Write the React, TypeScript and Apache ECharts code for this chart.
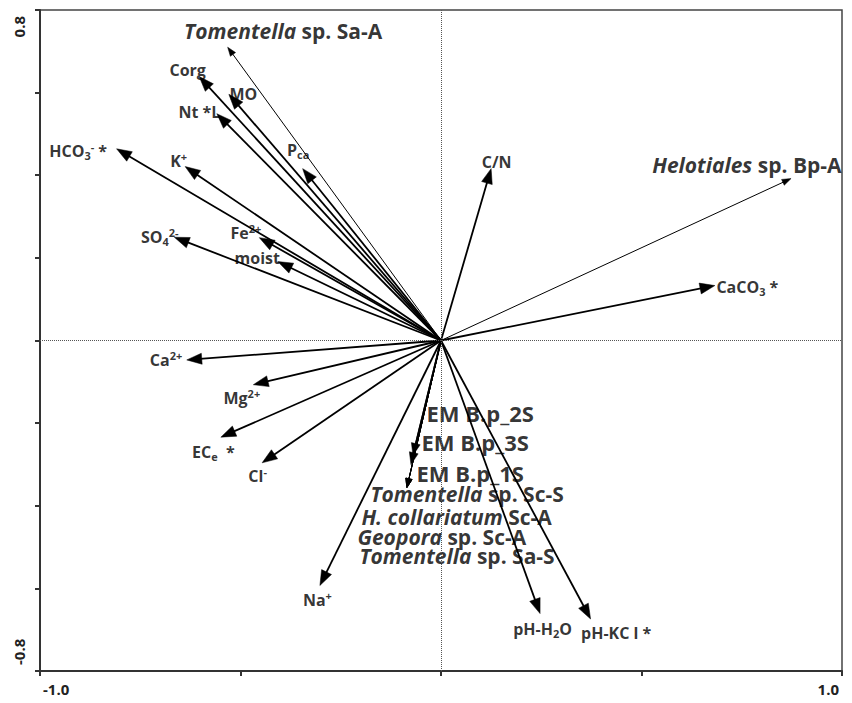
import React, { useEffect, useRef } from 'react';
import * as echarts from 'echarts';

// ---- Environmental variables (arrow tips, biplot scores) ----
const envLabels = [
  '{v|Corg}', '{v|MO}', '{v|Nt *L}', '{v|P}{sub|ca}', '{v|HCO}{sub|3}{sup|-}{v| *}',
  '{v|K}{sup|+}', '{v|SO}{sub|4}{sup|2-}', '{v|Fe}{sup|2+}', '{v|moist}', '{v|C/N}',
  '{v|CaCO}{sub|3}{v| *}', '{v|Ca}{sup|2+}', '{v|Mg}{sup|2+}', '{v|EC}{sub|e}{v|  *}',
  '{v|Cl}{sup|-}', '{v|Na}{sup|+}', '{v|pH-H}{sub|2}{v|O}', '{v|pH-KC l *}',
];
const envX = [-0.603, -0.529, -0.559, -0.345, -0.809, -0.638, -0.665, -0.453, -0.407, 0.125,
  0.683, -0.634, -0.468, -0.549, -0.446, -0.302, 0.247, 0.373];
const envY = [0.639, 0.596, 0.549, 0.416, 0.464, 0.421, 0.250, 0.249, 0.191, 0.416,
  0.133, -0.047, -0.107, -0.234, -0.296, -0.593, -0.661, -0.674];

// ---- Fungal taxa ----
const spLabels = [
  '{si|Tomentella}{sn| sp. Sa-A}', '{si|Helotiales}{sn| sp. Bp-A}',
  '{em|EM B.p_2S}', '{em|EM B.p_3S}', '{em|EM B.p_1S}',
  '{si|Tomentella}{sn| sp. Sc-S}', '{si|H. collariatum}{sn| Sc-A}',
  '{si|Geopora}{sn| sp. Sc-A}', '{si|Tomentella}{sn| sp. Sa-S}',
];
const spX = [-0.532, 0.873, -0.070, -0.075, -0.085, -0.085, -0.085, -0.085, -0.085];
const spY = [0.710, 0.392, -0.278, -0.300, -0.356, -0.356, -0.356, -0.356, -0.356];

// ---- Axis tick labels ----
const xTickLabels: Record<string, string> = { '-1': '-1.0', '1': '1.0' };
const yTickLabels: Record<string, string> = { '-0.8': '-0.8', '0.8': '0.8' };

// ---- styling (label placement relative to arrow tip, px) ----
const envLabelPos: [number, number, string][] = [
  [-11, -6, 'center'], [15, 0, 'center'], [-17, -1, 'center'], [-4, -18, 'center'], [-9, 3, 'right'],
  [-6, -5, 'center'], [-14, 0, 'center'], [-13, -4, 'center'], [-20, -3, 'center'], [6, -6, 'center'],
  [2, 2, 'left'], [-4, 1, 'right'], [-11, 14, 'center'], [-7, 15, 'center'],
  [-4, 14, 'center'], [-2, 15, 'center'], [3, 16, 'center'], [-9, 15, 'left'],
];
const spLabelPos: [number, number, string][] = [
  [56, -16, 'center'], [51, -13, 'right'],
  [14, -42, 'left'], [11, -22, 'left'], [10, -14, 'left'],
  [-36, 7, 'left'], [-45, 30, 'left'], [-49, 50, 'left'], [-47, 69, 'left'],
];
// 2 = heavy (env), 1 = medium, 0 = light
const spWeight = [0, 0, 1, 1, 0, 0, 0, 0, 0];

const FONT = '"Open Sans", Lato, sans-serif';
const INK = '#000';

export default function App() {
  const ref = useRef<HTMLDivElement>(null);

  useEffect(() => {
    if (!ref.current) return;
    const chart = echarts.init(ref.current, undefined, { renderer: 'svg' });

    const arrowData: number[][] = [];
    envX.forEach((x, i) => arrowData.push([x, envY[i], 2]));
    spX.forEach((x, i) => arrowData.push([x, spY[i], spWeight[i]]));

    const allLabels = [...envLabels, ...spLabels];
    const allPos = [...envLabelPos, ...spLabelPos];
    const labelData = arrowData.map((d, i) => ({
      value: [d[0], d[1]],
      label: {
        position: [allPos[i][0], allPos[i][1]],
        align: allPos[i][2],
      },
    }));

    const rich = {
      v: { fontSize: 16, fontWeight: 'bold', fontFamily: FONT, color: INK, lineHeight: 20 },
      sup: { fontSize: 11, fontWeight: 'bold', fontFamily: FONT, color: INK, lineHeight: 9, verticalAlign: 'top' },
      sub: { fontSize: 11, fontWeight: 'bold', fontFamily: FONT, color: INK, lineHeight: 11, verticalAlign: 'bottom' },
      si: { fontSize: 21, fontWeight: 'bold', fontStyle: 'italic', fontFamily: FONT, color: INK, lineHeight: 18 },
      sn: { fontSize: 21, fontWeight: 'bold', fontFamily: FONT, color: INK, lineHeight: 18 },
      em: { fontSize: 22, fontWeight: 'bold', fontFamily: FONT, color: INK, lineHeight: 20 },
    };

    const option: any = {
      animation: false,
      grid: { left: 40, right: 10, top: 10, bottom: 32, show: true, borderColor: '#444', borderWidth: 1.5, backgroundColor: 'transparent' },
      xAxis: {
        type: 'value', min: -1, max: 1, interval: 0.5,
        splitLine: { show: false },
        axisLine: { show: true, onZero: false, lineStyle: { color: '#333', width: 2 } },
        axisTick: { show: true, inside: false, length: 5, lineStyle: { color: '#333', width: 2 } },
        axisLabel: {
          margin: 10, fontSize: 15, fontWeight: 'bold', fontFamily: FONT, color: '#222',
          alignMinLabel: 'left', alignMaxLabel: 'right', padding: [0, 3, 0, 3],
          formatter: (v: number) => xTickLabels[String(Math.round(v * 10) / 10)] || '',
        },
      },
      yAxis: {
        type: 'value', min: -0.8, max: 0.8, interval: 0.2,
        splitLine: { show: false },
        axisLine: { show: true, onZero: false, lineStyle: { color: '#333', width: 2 } },
        axisTick: { show: true, inside: false, length: 5, lineStyle: { color: '#333', width: 2 } },
        axisLabel: {
          rotate: 90, margin: 14, fontSize: 15, fontWeight: 'bold', fontFamily: FONT, color: '#222',
          alignMinLabel: 'left', alignMaxLabel: 'right', padding: [0, 6, 0, 6],
          formatter: (v: number) => yTickLabels[String(Math.round(v * 10) / 10)] || '',
        },
      },
      series: [
        {
          type: 'line', data: [], silent: true,
          markLine: {
            silent: true, symbol: ['none', 'none'], label: { show: false },
            lineStyle: { type: 'dotted', color: '#555', width: 1 },
            data: [{ xAxis: 0 }, { yAxis: 0 }],
          },
        },
        {
          type: 'custom',
          silent: true,
          data: arrowData,
          encode: { x: 0, y: 1 },
          renderItem: (_p: any, api: any) => {
            const o = api.coord([0, 0]);
            const t = api.coord([api.value(0), api.value(1)]);
            const w = api.value(2);
            const dx = t[0] - o[0];
            const dy = t[1] - o[1];
            const len = Math.hypot(dx, dy) || 1;
            const ux = dx / len;
            const uy = dy / len;
            const hl = w === 2 ? 15 : w === 1 ? 12 : 9;
            const hw = w === 2 ? 5.5 : w === 1 ? 4.5 : 3.2;
            const lw = w === 2 ? 1.8 : w === 1 ? 1.8 : 1;
            const bx = t[0] - ux * hl;
            const by = t[1] - uy * hl;
            return {
              type: 'group',
              children: [
                { type: 'line', shape: { x1: o[0], y1: o[1], x2: bx + ux * 2, y2: by + uy * 2 }, style: { stroke: INK, lineWidth: lw } },
                {
                  type: 'polygon',
                  shape: { points: [[t[0], t[1]], [bx - uy * hw, by + ux * hw], [bx + uy * hw, by - ux * hw]] },
                  style: { fill: INK, stroke: INK, lineWidth: 0.5 },
                },
              ],
            };
          },
        },
        {
          type: 'scatter',
          silent: true,
          symbolSize: 1,
          itemStyle: { color: 'rgba(0,0,0,0)' },
          data: labelData,
          label: {
            show: true,
            verticalAlign: 'middle',
            formatter: (p: any) => allLabels[p.dataIndex],
            rich,
          },
        },
      ],
    };

    chart.setOption(option);
    return () => chart.dispose();
  }, []);

  return <div ref={ref} style={{ position: 'fixed', left: 0, top: 0, width: 852, height: 703, background: '#fff' }} />;
}
